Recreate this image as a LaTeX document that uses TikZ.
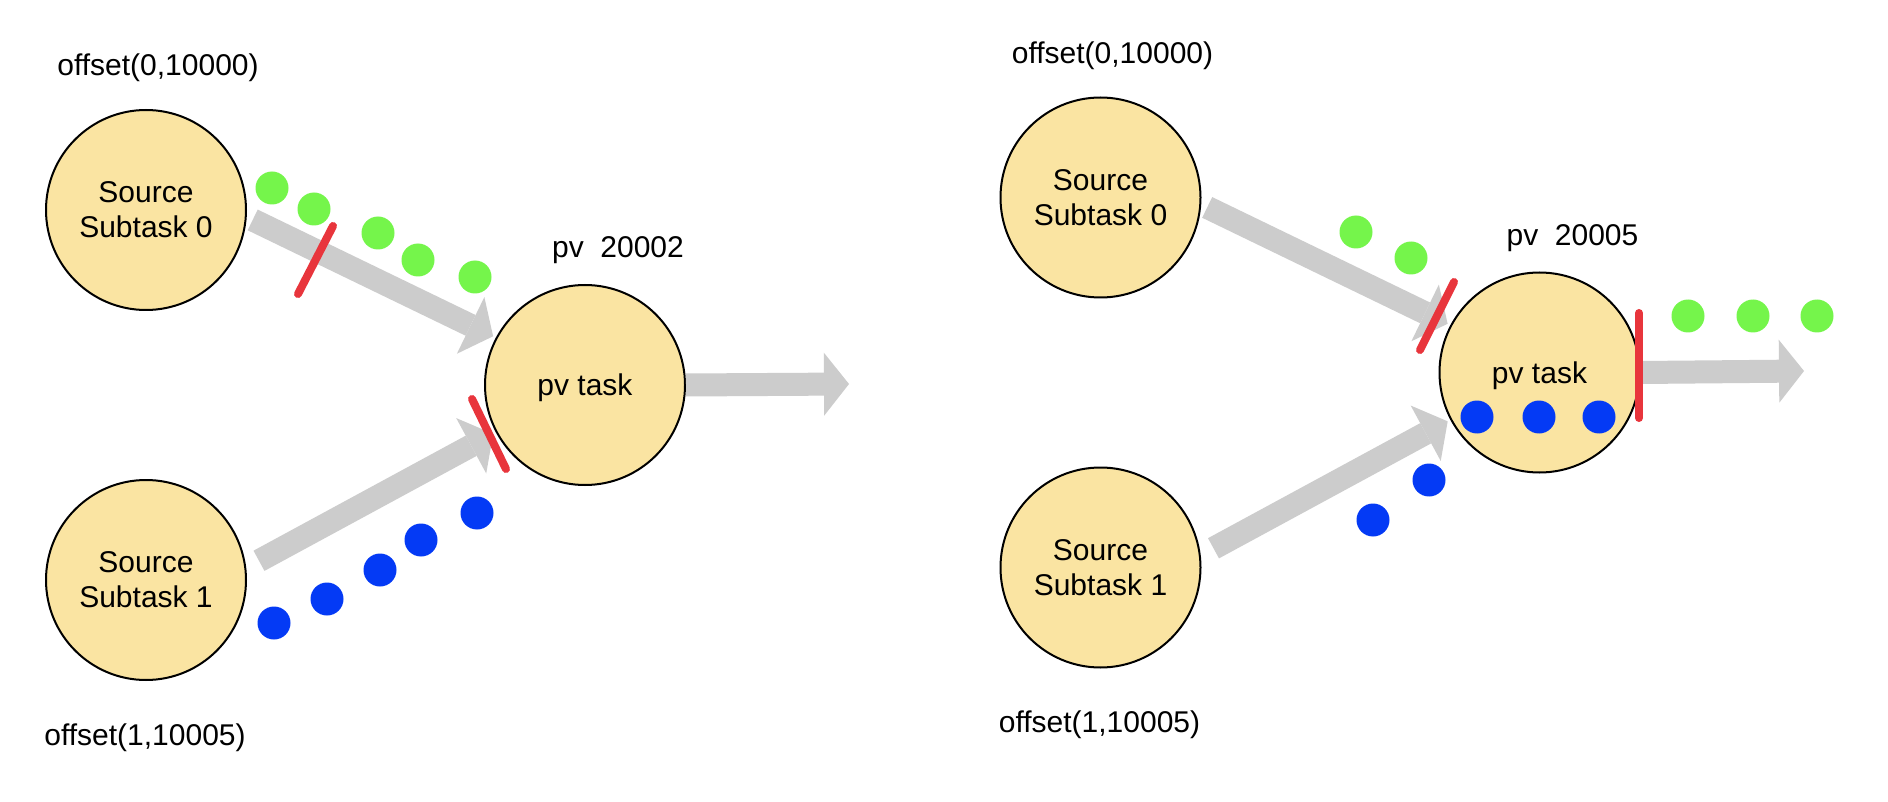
\documentclass[tikz,border=0pt]{standalone}
\usepackage{fontspec}
\setmainfont{Liberation Sans}
\usetikzlibrary{arrows.meta}

\definecolor{taskfill}{HTML}{FAE4A2}
\definecolor{flowgray}{HTML}{CCCCCC}
\definecolor{recgreen}{HTML}{75F54B}
\definecolor{recblue}{HTML}{043AF5}
\definecolor{cutred}{HTML}{E8353C}

\tikzset{
  task/.style={circle, draw=black, line width=2pt, fill=taskfill,
    minimum size=200pt, inner sep=0pt, align=center,
    font=\fontsize{30}{35}\selectfont},
  lbl/.style={font=\fontsize{30}{36}\selectfont, inner sep=0pt, anchor=base},
  flow/.style={draw=flowgray, line width=23pt,
    -{Triangle[width=63pt,length=25pt,line width=0pt]}},
  cutmark/.style={draw=cutred, line width=8pt, line cap=round},
  greendot/.style={fill=recgreen},
  bluedot/.style={fill=recblue},
}

\begin{document}
\begin{tikzpicture}[x=1pt,y=-1pt]
\fill[white] (0,0) rectangle (1888,802);
\useasboundingbox (0,0) rectangle (1888,802);

% ---------- before the checkpoint ----------
\node[task] (s0L) at (146,210) {Source\\Subtask 0};
\node[task] (s1L) at (146,580) {Source\\Subtask 1};
\node[task, text depth=0pt] (pvL) at (585,385) {pv task};
\node[lbl] (o0L) at (158,76) {offset(0,10000)};
\node[lbl] (o1L) at (145,745) {offset(1,10005)};
\node[lbl] (pvnL) at (618,258) {pv\ \ 20002};
\coordinate (outL) at (849,384);

\draw[flow, shorten <=6.6pt, shorten >=3pt] (s0L.-4.2) -- (pvL.152.6);
\draw[flow, shorten <=14.5pt, shorten >=3pt] (s1L.7.3) -- (pvL.208);
\draw[flow] (pvL.east) -- (outL);

\foreach \p in {(272,188),(314,209),(378,233),(418,260),(475,277)}
  \fill[greendot] \p circle[radius=16.5pt];
\foreach \p in {(274,623),(327,599),(380,570),(421,540),(477,513)}
  \fill[bluedot] \p circle[radius=16.5pt];

\draw[cutmark] (333,226) -- (298,294);
\draw[cutmark] (472,399) -- (506,469);

% ---------- after the first barrier is aligned ----------
\node[task] (s0R) at (1100.5,197.5) {Source\\Subtask 0};
\node[task] (s1R) at (1100.5,567.5) {Source\\Subtask 1};
\node[task, text depth=0pt] (pvR) at (1539.5,372.5) {pv task};
\node[lbl] (o0R) at (1112.5,63.5) {offset(0,10000)};
\node[lbl] (o1R) at (1099.5,732.5) {offset(1,10005)};
\node[lbl] (pvnR) at (1572.5,245.5) {pv\ \ 20005};
\coordinate (outR) at (1804,371);

\draw[flow, shorten <=6.6pt, shorten >=3pt] (s0R.-4.2) -- (pvR.152.6);
\draw[flow, shorten <=14.5pt, shorten >=3pt] (s1R.7.3) -- (pvR.208);
\draw[flow] (pvR.east) -- (outR);

\foreach \p in {(1356,232),(1411,258),(1688,316),(1753,316),(1817,316)}
  \fill[greendot] \p circle[radius=16.5pt];
\foreach \p in {(1477,417),(1539,417),(1599,417),(1429,480),(1373,520)}
  \fill[bluedot] \p circle[radius=16.5pt];

\draw[cutmark] (1454,282) -- (1420,350);
\draw[cutmark] (1639,313) -- (1639,418);
\end{tikzpicture}
\end{document}
